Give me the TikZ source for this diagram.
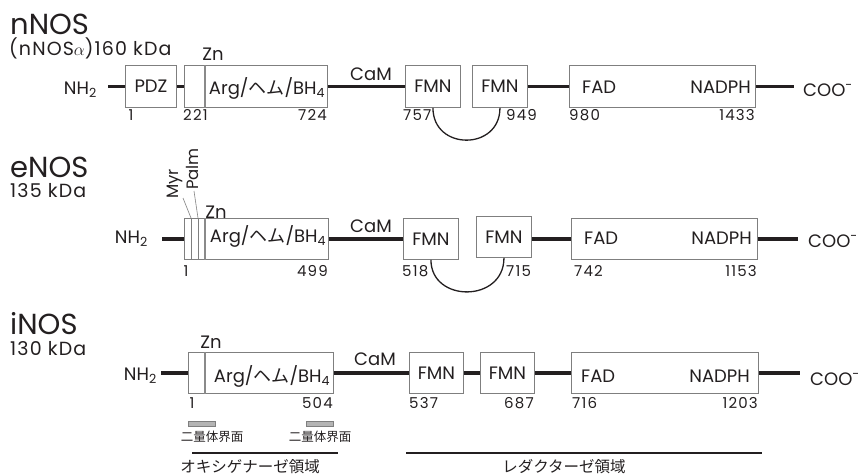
\documentclass[tikz,border=0pt]{standalone}
\usepackage{fontspec}
\setmainfont{Poppins}
\newfontfamily\jp{Noto Sans CJK JP}
\newcommand\myfs[1]{\fontsize{#1}{#1}\selectfont}
\definecolor{ink}{HTML}{231F20}
\definecolor{boxc}{HTML}{7F7F7F}
\definecolor{zng}{HTML}{8A8A8A}
\definecolor{barfill}{HTML}{B4B4B4}
\begin{document}
\begin{tikzpicture}[x=1pt,y=-1pt,
  box/.style={draw=boxc, line width=0.9pt, fill=white, inner sep=0pt, anchor=north west,
    text=ink, font=\myfs{18}},
  chain/.style={draw=ink, line width=3.8pt},
  lbl/.style={font=\myfs{18}, text=ink, inner sep=0pt},
  num/.style={font={\myfs{15}\addfontfeatures{LetterSpace=8}}, text=ink, inner sep=0pt},
  ttl/.style={font=\myfs{29}, text=ink, inner sep=0pt, anchor=base west},
  subttl/.style={font={\myfs{19}\addfontfeatures{LetterSpace=6}}, text=ink, inner sep=0pt, anchor=base west},
  znbar/.style={draw=zng, line width=2pt},
  thin/.style={draw=boxc, line width=0.8pt},
  loopc/.style={draw=ink, line width=1.3pt},
  rot/.style={font=\myfs{16.5}, text=ink, inner sep=0pt, rotate=90, anchor=base west},
  jps/.style={font=\jp\myfs{12.5}, text=ink, inner sep=0pt},
  jpl/.style={font=\jp\myfs{15.5}, text=ink, inner sep=0pt},
  dimer/.style={draw=boxc, fill=barfill, line width=0.7pt},
  region/.style={draw=ink, line width=1.4pt}
]
\useasboundingbox (0,0) rectangle (858,475);

% ================= nNOS =================
\node[ttl] (tN) at (10,34) {nNOS};
\node[subttl] (sN) at (9,55) {(nNOS$\alpha$)160 kDa};
\node[lbl, anchor=base east] (nh2N) at (97,94) {NH\textsubscript{2}};
\node[box, minimum width=51, minimum height=42] (pdzN) at (125,65) {PDZ};
\node[box, minimum width=143, minimum height=42] (argN) at (184,65) {};
\node[box, minimum width=55, minimum height=42] (fmnaN) at (405,65) {FMN};
\node[box, minimum width=55, minimum height=42] (fmnbN) at (472,65) {FMN};
\node[box, minimum width=186, minimum height=42] (fadN) at (569,65) {};
\draw[znbar] ([xshift=21]argN.north west) -- ([xshift=21]argN.south west);
\node[lbl, anchor=base] (argtN) at (267,94) {Arg/{\jp ヘム}/BH\textsubscript{4}};
\node[lbl, anchor=base west] (fadtN) at (582,93) {FAD};
\node[lbl, anchor=base east] (nadN) at (751,93) {NADPH};
\node[lbl, anchor=base west] (cooN) at (803,96) {COO\textsuperscript{-}};
\node[lbl, anchor=base] (camN) at (371,80) {CaM};
\node[lbl, anchor=base] (znN) at (213,60) {Zn};
\draw[chain, shorten >=11pt] (pdzN.west) -- (pdzN.west -| nh2N.east);
\draw[chain] (pdzN.east) -- (argN.west);
\draw[chain] (argN.east) -- (fmnaN.west);
\draw[chain] (fmnbN.east) -- (fadN.west);
\draw[chain, shorten >=9pt] (fadN.east) -- (fadN.east -| cooN.west);
\draw[loopc] (fmnaN.south) .. controls +(0,43) and +(0,43) .. (fmnbN.south);
\node[num, anchor=base] (n1N) at (131,120) {1};
\node[num, anchor=base west] (n221) at (183,120) {221};
\node[num, anchor=base east] (n724) at (327,120) {724};
\node[num, anchor=base west] (n757) at (403,120) {757};
\node[num, anchor=base west] (n949) at (506,120) {949};
\node[num, anchor=base west] (n980) at (569,120) {980};
\node[num, anchor=base east] (n1433) at (755,120) {1433};

% ================= eNOS =================
\node[ttl] (tE) at (10,177) {eNOS};
\node[subttl] (sE) at (10,197) {135 kDa};
\node[lbl, anchor=base east] (nh2E) at (148,243) {NH\textsubscript{2}};
\node[box, minimum width=144, minimum height=41] (argE) at (184,218) {};
\node[box, minimum width=55, minimum height=41] (fmnaE) at (403,218) {FMN};
\node[box, minimum width=55, minimum height=41] (fmnbE) at (476,216) {FMN};
\node[box, minimum width=186, minimum height=41] (fadE) at (571,218) {};
\draw[thin] ([xshift=7]argE.north west) -- ([xshift=7]argE.south west);
\draw[thin] ([xshift=14]argE.north west) -- ([xshift=14]argE.south west);
\draw[znbar] ([xshift=21]argE.north west) -- ([xshift=21]argE.south west);
\node[rot] (myr) at (178,199) {Myr};
\node[rot] (palm) at (198,190) {Palm};
\coordinate (myrend) at (183,198);
\coordinate (palmend) at (194,191);
\draw[thin, line width=0.6pt] (myrend) -- ([xshift=7]argE.north west);
\draw[thin, line width=0.6pt] (palmend) -- ([xshift=14]argE.north west);
\node[lbl, anchor=base] (argtE) at (268,242) {Arg/{\jp ヘム}/BH\textsubscript{4}};
\node[lbl, anchor=base west] (fadtE) at (584,244) {FAD};
\node[lbl, anchor=base east] (nadE) at (752,244) {NADPH};
\node[lbl, anchor=base west] (cooE) at (808,247) {COO\textsuperscript{-}};
\node[lbl, anchor=base] (camE) at (371,232) {CaM};
\node[lbl, anchor=base] (znE) at (216,218) {Zn};
\draw[chain, shorten >=14pt] (argE.west) -- (argE.west -| nh2E.east);
\draw[chain] (argE.east) -- (fmnaE.west);
\draw[chain] (fmnbE.east |- fadE.west) -- (fadE.west);
\draw[chain, shorten >=10pt] (fadE.east) -- (fadE.east -| cooE.west);
\draw[loopc] (fmnaE.south) .. controls +(0,43) and +(0,45) .. (fmnbE.south);
\node[num, anchor=base] (n1E) at (186,276) {1};
\node[num, anchor=base east] (n499) at (328,276) {499};
\node[num, anchor=base west] (n518) at (402,276) {518};
\node[num, anchor=base west] (n715) at (506,276) {715};
\node[num, anchor=base west] (n742) at (574,276) {742};
\node[num, anchor=base east] (n1153) at (757,276) {1153};

% ================= iNOS =================
\node[ttl] (tI) at (10,334) {iNOS};
\node[subttl] (sI) at (10,355) {130 kDa};
\node[lbl, anchor=base east] (nh2I) at (157,380) {NH\textsubscript{2}};
\node[box, minimum width=145, minimum height=41] (argI) at (188,352) {};
\node[box, minimum width=54, minimum height=41] (fmnaI) at (409,352) {FMN};
\node[box, minimum width=54, minimum height=41] (fmnbI) at (480,352) {FMN};
\node[box, minimum width=187, minimum height=41] (fadI) at (571,352) {};
\draw[znbar] ([xshift=17]argI.north west) -- ([xshift=17]argI.south west);
\node[lbl, anchor=base] (argtI) at (272,382) {Arg/{\jp ヘム}/BH\textsubscript{4}};
\node[lbl, anchor=base west] (fadtI) at (581,382) {FAD};
\node[lbl, anchor=base east] (nadI) at (750,382) {NADPH};
\node[lbl, anchor=base west] (cooI) at (810,385) {COO\textsuperscript{-}};
\node[lbl, anchor=base] (camI) at (375,365) {CaM};
\node[lbl, anchor=base] (znI) at (211,348) {Zn};
\draw[chain, shorten >=4pt] (argI.west) -- (argI.west -| nh2I.east);
\draw[chain] (argI.east) -- (fmnaI.west);
\draw[chain] (fmnaI.east) -- (fmnbI.west);
\draw[chain] (fmnbI.east) -- (fadI.west);
\draw[chain, shorten >=10pt] (fadI.east) -- (fadI.east -| cooI.west);
\node[num, anchor=base] (n1I) at (192,408) {1};
\node[num, anchor=base east] (n504) at (333,408) {504};
\node[num, anchor=base west] (n537) at (409,408) {537};
\node[num, anchor=base east] (n687) at (534,408) {687};
\node[num, anchor=base west] (n716) at (572,408) {716};
\node[num, anchor=base east] (n1203) at (758,408) {1203};

% dimer interface
\draw[dimer] (188,421) rectangle (215,426);
\draw[dimer] (306,421) rectangle (333,426);
\node[jps] (d1) at (212,437) {二量体界面};
\node[jps] (d2) at (320,437) {二量体界面};

% regions
\draw[region] (192,453) -- (338,453);
\draw[region] (406,453) -- (762,453);
\node[jpl] (oxy) at (250,467) {オキシゲナーゼ領域};
\node[jpl] (red) at (564,467) {レダクターゼ領域};
\end{tikzpicture}
\end{document}
